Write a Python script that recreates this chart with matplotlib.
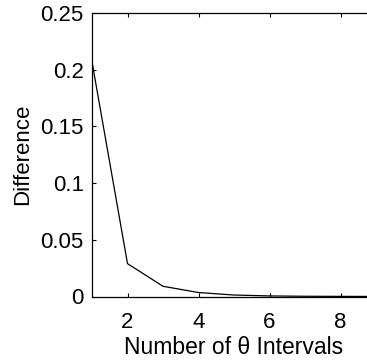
import matplotlib
matplotlib.use("Agg")
import matplotlib.pyplot as plt

intervals = [1, 2, 3, 4, 5, 6, 7, 8, 9]
difference = [0.207, 0.029, 0.009, 0.0035, 0.0013, 0.0005, 0.0002, 0.0001, 0.00005]
yticks = [0, 0.05, 0.1, 0.15, 0.2, 0.25]
ytick_labels = ["0", "0.05", "0.1", "0.15", "0.2", "0.25"]

plt.rcParams['font.family'] = ['Liberation Sans', 'DejaVu Sans']

W, H = 367, 363
fig = plt.figure(figsize=(W / 100, H / 100), dpi=100)
left, right, top, bottom = 92, 92 + 8 * 35.5, 13, 296.5
ax = fig.add_axes([left / W, 1 - bottom / H, (right - left) / W, (bottom - top) / H])

ax.plot(intervals, difference, color='black', linewidth=0.9)
ax.set_xlim(1, 9)
ax.set_ylim(0, 0.25)
ax.set_xticks([2, 4, 6, 8])
ax.set_yticks(yticks)
ax.set_yticklabels(ytick_labels)
ax.tick_params(direction='in', top=True, right=False, labelsize=16, length=3, pad=6)
ax.tick_params(axis='x', pad=11)
for s in ax.spines.values():
    s.set_linewidth(0.9)
ax.set_xlabel("Number of θ Intervals", fontsize=16.5, labelpad=2)
ax.set_ylabel("Difference", fontsize=16, labelpad=5)

fig.savefig("out.png", dpi=100)
